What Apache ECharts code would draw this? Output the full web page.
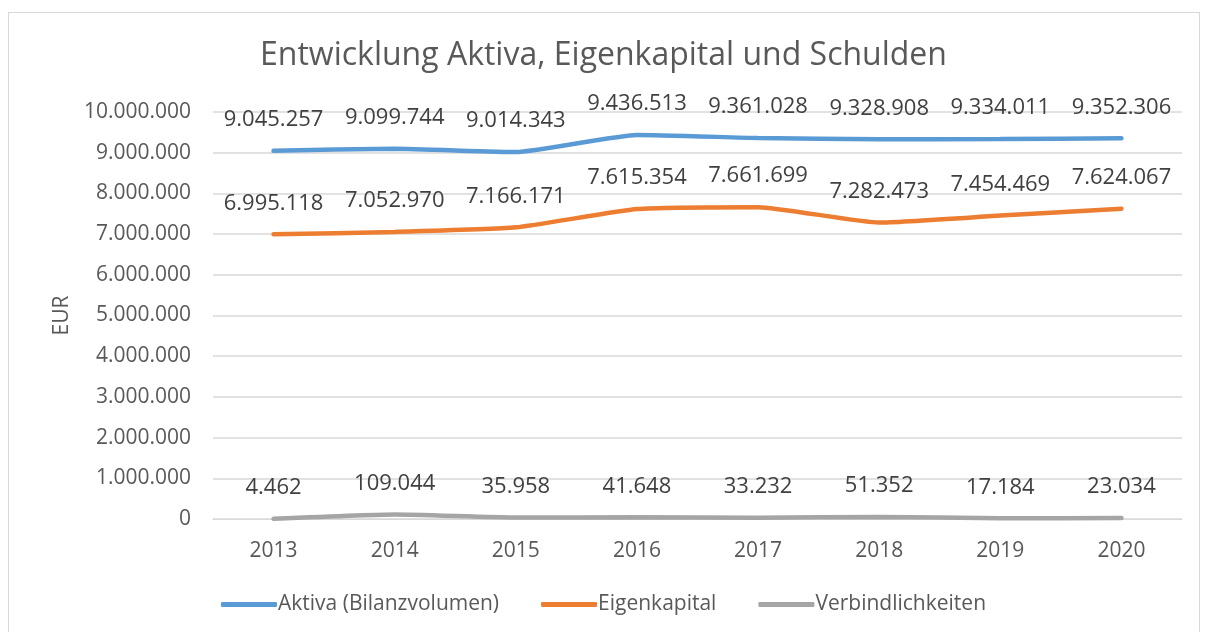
<!DOCTYPE html>
<html>
<head>
<meta charset="utf-8">
<script src="https://cdn.jsdelivr.net/npm/echarts@6/dist/echarts.min.js"></script>
<style>
  html, body { margin: 0; padding: 0; background: #fff; }
  #frame { position: absolute; left: 8px; top: 12px; width: 1192px; height: 630px; border: 1px solid #d9d9d9; box-sizing: border-box; }
  #main { width: 1207px; height: 632px; }
</style>
</head>
<body>
<div id="frame"></div>
<div id="main"></div>
<script>
// Jahre und Werte (EUR)
var years = ['2013', '2014', '2015', '2016', '2017', '2018', '2019', '2020'];
var aktiva = [9045257, 9099744, 9014343, 9436513, 9361028, 9328908, 9334011, 9352306];
var eigenkapital = [6995118, 7052970, 7166171, 7615354, 7661699, 7282473, 7454469, 7624067];
var verbindlichkeiten = [4462, 109044, 35958, 41648, 33232, 51352, 17184, 23034];

var seriesNames = ['Aktiva (Bilanzvolumen)', 'Eigenkapital', 'Verbindlichkeiten'];
var colors = ['#5B9BD5', '#ED7D31', '#A5A5A5'];

function fmt(v) {
  return String(v).replace(/\B(?=(\d{3})+(?!\d))/g, '.');
}

var myChart = echarts.init(document.getElementById('main'));

function makeSeries(name, data, color) {
  return {
    name: name,
    type: 'line',
    data: data,
    smooth: 0.15,
    symbol: 'circle',
    symbolSize: 0.1,
    showSymbol: true,
    lineStyle: { width: 4.5, color: color, cap: 'round' },
    itemStyle: { color: color },
    emphasis: { disabled: true },
    labelLayout: { hideOverlap: false },
    label: {
      show: true,
      position: 'top',
      distance: 20,
      color: '#404040',
      fontSize: 22,
      fontFamily: 'Open Sans',
      formatter: function (p) { return fmt(p.value); }
    }
  };
}

var option = {
  animation: false,
  title: {
    text: 'Entwicklung Aktiva, Eigenkapital und Schulden',
    left: 'center',
    top: 35,
    textStyle: { color: '#595959', fontSize: 32, fontWeight: 'normal', fontFamily: 'Open Sans' }
  },
  legend: {
    bottom: 12,
    left: 'center',
    itemWidth: 56,
    itemHeight: 5,
    itemGap: 42,
    icon: 'roundRect',
    textStyle: { color: '#595959', fontSize: 21, fontFamily: 'Open Sans', padding: [0, 0, 0, -4] },
    data: seriesNames
  },
  grid: { left: 213, right: 25, top: 112, bottom: 113, containLabel: false },
  xAxis: {
    type: 'category',
    data: years,
    boundaryGap: true,
    axisLine: { show: true, lineStyle: { color: '#d9d9d9', width: 1 } },
    axisTick: { show: false },
    axisLabel: { color: '#595959', fontSize: 21, fontFamily: 'Open Sans', margin: 22 }
  },
  yAxis: {
    type: 'value',
    min: 0,
    max: 10000000,
    interval: 1000000,
    name: 'EUR',
    nameLocation: 'middle',
    nameGap: 140,
    nameRotate: 90,
    nameTextStyle: { color: '#595959', fontSize: 21, fontFamily: 'Open Sans' },
    axisLine: { show: false },
    axisTick: { show: false },
    splitLine: { lineStyle: { color: '#d9d9d9', width: 1.5 } },
    axisLabel: { color: '#595959', fontSize: 21, fontFamily: 'Open Sans', margin: 22, formatter: function (v) { return fmt(v); } }
  },
  series: [
    makeSeries(seriesNames[0], aktiva, colors[0]),
    makeSeries(seriesNames[1], eigenkapital, colors[1]),
    makeSeries(seriesNames[2], verbindlichkeiten, colors[2])
  ]
};

myChart.setOption(option);
window.onresize = function () {
  myChart.resize();
};
</script>
</body>
</html>
